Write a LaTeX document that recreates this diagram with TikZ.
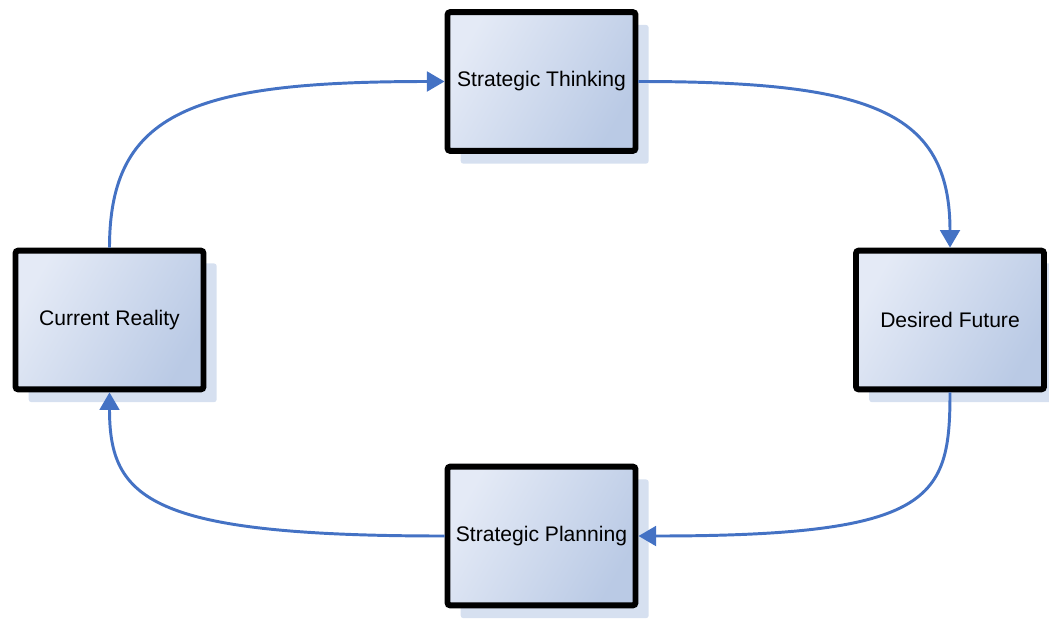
\documentclass[tikz,border=0pt]{standalone}
\usepackage{fontspec}
\setmainfont{Liberation Sans}
\usetikzlibrary{arrows.meta,shadows}

\definecolor{flowblue}{RGB}{68,114,196}
\definecolor{boxlight}{RGB}{228,234,246}
\definecolor{boxdark}{RGB}{186,202,229}
\definecolor{shadowblue}{RGB}{214,224,240}

\tikzset{
  stage/.style={draw=black, line width=4.2pt, rounded corners=2pt,
    top color=boxlight, bottom color=boxdark, shading angle=60,
    minimum width=4.7cm, minimum height=3.47cm,
    font=\fontsize{15}{18}\selectfont,
    drop shadow={shadow xshift=0.33cm, shadow yshift=-0.32cm, fill=shadowblue, opacity=1}},
  flow/.style={draw=flowblue, line width=2.1pt, -{Triangle[width=14pt,length=12.5pt]}}
}

\begin{document}
\begin{tikzpicture}[x=0.025cm, y=-0.025cm]
      \useasboundingbox (0, 0) rectangle (1049, 619);

      \node[stage] (st) at (541.5, 81.5) {Strategic Thinking};
      \node[stage] (df) at (950, 320) {Desired Future};
      \node[stage] (sp) at (541.5, 536) {Strategic Planning};
      \node[stage] (cr) at (109.5, 320) {Current Reality};

      \draw[flow] (cr.north) .. controls +(0, -137) and +(-250, 0) .. (st.west);
      \draw[flow] (st.east) .. controls +(232, 0) and +(0, -137) .. (df.north);
      \draw[flow] (df.south) .. controls +(0, 107) and +(295, 0) .. (sp.east);
      \draw[flow] (sp.west) .. controls +(-295, 0) and +(0, 107) .. (cr.south);
    \end{tikzpicture}
\end{document}
